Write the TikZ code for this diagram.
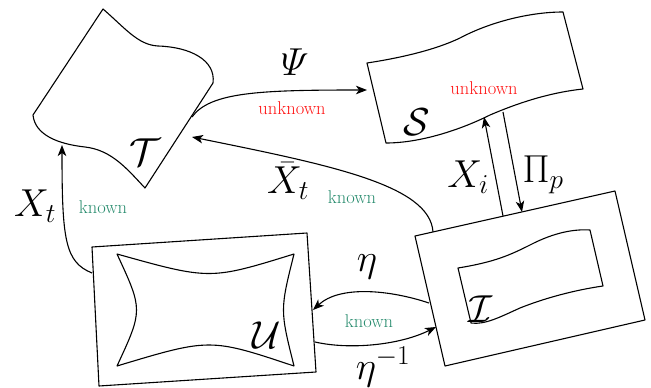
\RequirePackage{fix-cm}
\documentclass[tikz,border=0pt]{standalone}
\usepackage{amsmath}
\usetikzlibrary{arrows.meta}
\definecolor{knowngreen}{RGB}{40,140,110}
\definecolor{unkred}{RGB}{255,20,20}
\tikzset{
  outline/.style={line width=1.1pt, line join=round},
  conn/.style={line width=1.1pt, -{Stealth[length=11pt,width=8.5pt,inset=3pt]}},
  mlab/.style={font=\fontsize{39}{42}\selectfont, inner sep=0pt},
  knownlab/.style={text=knowngreen, font=\fontsize{18.5}{20}\selectfont, inner sep=0pt},
  unklab/.style={text=unkred, font=\fontsize{18.5}{20}\selectfont, inner sep=0pt}
}
\begin{document}
\begin{tikzpicture}[x=1pt,y=-1pt]
\useasboundingbox (0,0) rectangle (651,388);
% T shape
\draw[outline] (103,9) .. controls (125,28) and (138,45) .. (158,46)
  .. controls (190,47) and (216,60) .. (213,83) -- (145,188)
  .. controls (128,170) and (112,150) .. (85,147)
  .. controls (58,144) and (35,135) .. (33,115) -- cycle;
% S shape
\draw[outline] (367,63) .. controls (400,58) and (435,50) .. (460,38)
  .. controls (490,22) and (530,12) .. (563,12) -- (583,89)
  .. controls (555,92) and (525,100) .. (490,115)
  .. controls (460,130) and (420,143) .. (386,143) -- cycle;
% U box
\draw[outline] (92,247) -- (307,233) -- (316,372) -- (99,386) -- cycle;
\draw[outline] (117,254) .. controls (210,280) .. (294,254)
  .. controls (280,310) .. (294,366)
  .. controls (210,338) .. (117,366)
  .. controls (143,310) .. cycle;
% I box
\draw[outline] (415,236) -- (615,191) -- (645,320) -- (445,366) -- cycle;
\draw[outline] (458,268) .. controls (495,262) and (510,255) .. (530,245)
  .. controls (555,232) and (575,229) .. (590,230) -- (603,286)
  .. controls (575,290) and (545,298) .. (520,308)
  .. controls (500,317) and (485,325) .. (471,323) -- cycle;
% labels inside shapes
\node[mlab] (Tlab) at (145,152) {$\mathcal{T}$};
\node[mlab] (Slab) at (417,122) {$\mathcal{S}$};
\node[mlab] (Ulab) at (267,335) {$\mathcal{U}$};
\node[mlab] (Ilab) at (481,309) {$\mathcal{I}$};
\node[unklab] (unkS) at (484,88) {unknown};
% connector end points
\coordinate (Tright) at (192,117);
\coordinate (Sleft) at (367,90);
\coordinate (Ttip) at (192,137);
\coordinate (Itop) at (433,232);
\coordinate (Uleft) at (92,273);
\coordinate (Tbot) at (62,145);
\coordinate (Ileft1) at (429,303);
\coordinate (Uright1) at (313,310);
\coordinate (Uright2) at (315,342);
\coordinate (Ileft2) at (436,327);
\coordinate (Itop1) at (503,216);
\coordinate (Sbot1) at (484,117);
\coordinate (Sbot2) at (503,112);
\coordinate (Itop2) at (522,212);
% connectors
\draw[conn] (Tright) .. controls (210,92) and (260,90) .. (Sleft);
\draw[conn] (Itop) .. controls (430,185) and (330,165) .. (Ttip);
\draw[conn] (Uleft) .. controls (65,262) and (62,240) .. (Tbot);
\draw[conn] (Ileft1) .. controls (390,290) and (340,285) .. (Uright1);
\draw[conn] (Uright2) .. controls (350,350) and (400,345) .. (Ileft2);
\draw[conn] (Itop1) -- (Sbot1);
\draw[conn] (Sbot2) -- (Itop2);
% connector labels
\node[mlab] (psi) at (295,62) {$\varPsi$};
\node[unklab] (unkpsi) at (292,108) {unknown};
\node[mlab] (xt) at (35,206) {$X_t$};
\node[knownlab] (k1) at (103,207) {known};
\node[mlab] (xbt) at (288,181) {$\bar{X}_t$};
\node[knownlab] (k2) at (352,197) {known};
\node[mlab] (eta) at (367,267) {$\eta$};
\node[knownlab] (k3) at (369,321) {known};
\node[mlab] (etainv) at (383,367) {$\eta^{-1}$};
\node[mlab] (xi) at (468,177) {$X_i$};
\node[mlab] (pip) at (543,175) {$\Pi_p$};
\end{tikzpicture}
\end{document}
